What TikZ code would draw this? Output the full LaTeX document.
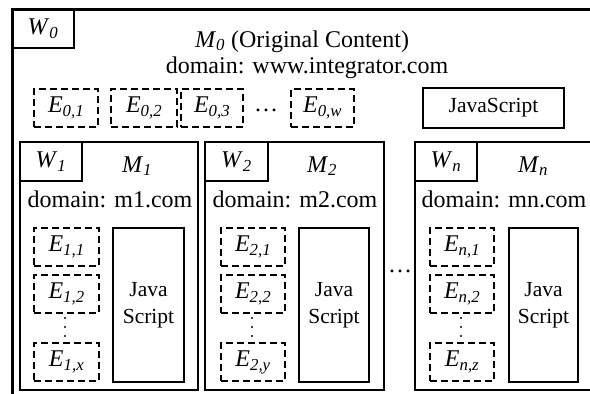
\documentclass[tikz,border=0pt]{standalone}
\usepackage{fontspec}
\setmainfont{Liberation Serif}
\newcommand{\lbl}[2]{\textit{#1}\textsubscript{\textit{#2}}}
\tikzset{box/.style={draw,line width=2pt,inner sep=0pt,anchor=north west},
    outer/.style={box,line width=3pt},
    wbox/.style={box,minimum width=62pt,minimum height=39pt},
    panel/.style={box,minimum height=248pt},
    elem/.style={box,line width=2.2pt,dash pattern=on 7pt off 4pt,minimum height=38pt},
    script/.style={box,align=center,font=\fontsize{21.5}{27}\selectfont},
    txt/.style={inner sep=0pt,anchor=base}}

\begin{document}
\begin{tikzpicture}[x=1pt,y=-1pt,font=\fontsize{24}{28}\selectfont]
\useasboundingbox (0,0) rectangle (590,394);
\clip (0,0) rectangle (590,394);
% integrator page
\node[outer,minimum width=600pt,minimum height=420pt] (m0) at (11,8) {};
\node[wbox] (w0) at (11,8) {\lbl{W}{0}};
\node[txt] (m0title) at (302,47) {\lbl{M}{0} (Original Content)};
\node[txt] (m0dom) at (307,73) {domain: www.integrator.com};
\node[elem,minimum width=64pt] (e01) at (33,88) {\lbl{E}{0,1}};
\node[elem,minimum width=66pt] (e02) at (110,88) {\lbl{E}{0,2}};
\node[elem,minimum width=62pt] (e03) at (180,88) {\lbl{E}{0,3}};
\node[txt] (e0dots) at (266,111) {\dots};
\node[elem,minimum width=63pt] (e0w) at (290,88) {\lbl{E}{0,w}};
\node[script,minimum width=141pt,minimum height=40pt] (js0) at (422,87) {JavaScript};
% mashup 1
\node[panel,minimum width=178pt] (m1) at (19,141) {};
\node[wbox] (w1) at (19,141) {\lbl{W}{1}};
\node[txt] (m1title) at (137,172) {\lbl{M}{1}};
\node[txt] (m1dom) at (110,207) {domain: m1.com};
\node[elem,minimum width=65pt] (e11) at (33,227) {\lbl{E}{1,1}};
\node[elem,minimum width=65pt] (e12) at (33,274) {\lbl{E}{1,2}};
\node[elem,minimum width=65pt] (e1x) at (33,342) {\lbl{E}{1,x}};
\node[script,minimum width=71pt,minimum height=154pt] (js1) at (112,227) {Java\\Script};
% mashup 2
\node[panel,minimum width=179pt] (m2) at (204,141) {};
\node[wbox,minimum width=63pt] (w2) at (204,141) {\lbl{W}{2}};
\node[txt] (m2title) at (322,172) {\lbl{M}{2}};
\node[txt] (m2dom) at (295,207) {domain: m2.com};
\node[elem,minimum width=64pt] (e21) at (220,227) {\lbl{E}{2,1}};
\node[elem,minimum width=64pt] (e22) at (220,274) {\lbl{E}{2,2}};
\node[elem,minimum width=64pt] (e2y) at (220,342) {\lbl{E}{2,y}};
\node[script,minimum width=70pt,minimum height=154pt] (js2) at (298,227) {Java\\Script};
\node[txt] (mdots) at (400,272) {\dots};
% mashup n
\node[panel,minimum width=190pt] (mn) at (414,141) {};
\node[wbox] (wn) at (414,141) {\lbl{W}{n}};
\node[txt] (mntitle) at (533,172) {\lbl{M}{n}};
\node[txt] (mndom) at (504,207) {domain: mn.com};
\node[elem,minimum width=64pt] (en1) at (429,227) {\lbl{E}{n,1}};
\node[elem,minimum width=64pt] (en2) at (429,274) {\lbl{E}{n,2}};
\node[elem,minimum width=64pt] (enz) at (429,342) {\lbl{E}{n,z}};
\node[script,minimum width=69pt,minimum height=154pt] (jsn) at (508,227) {Java\\Script};
% vertical dots
\foreach \x in {65,252,461}
  \foreach \y in {318,327,336}
    \fill (\x,\y) circle (1.1pt);
\end{tikzpicture}
\end{document}
